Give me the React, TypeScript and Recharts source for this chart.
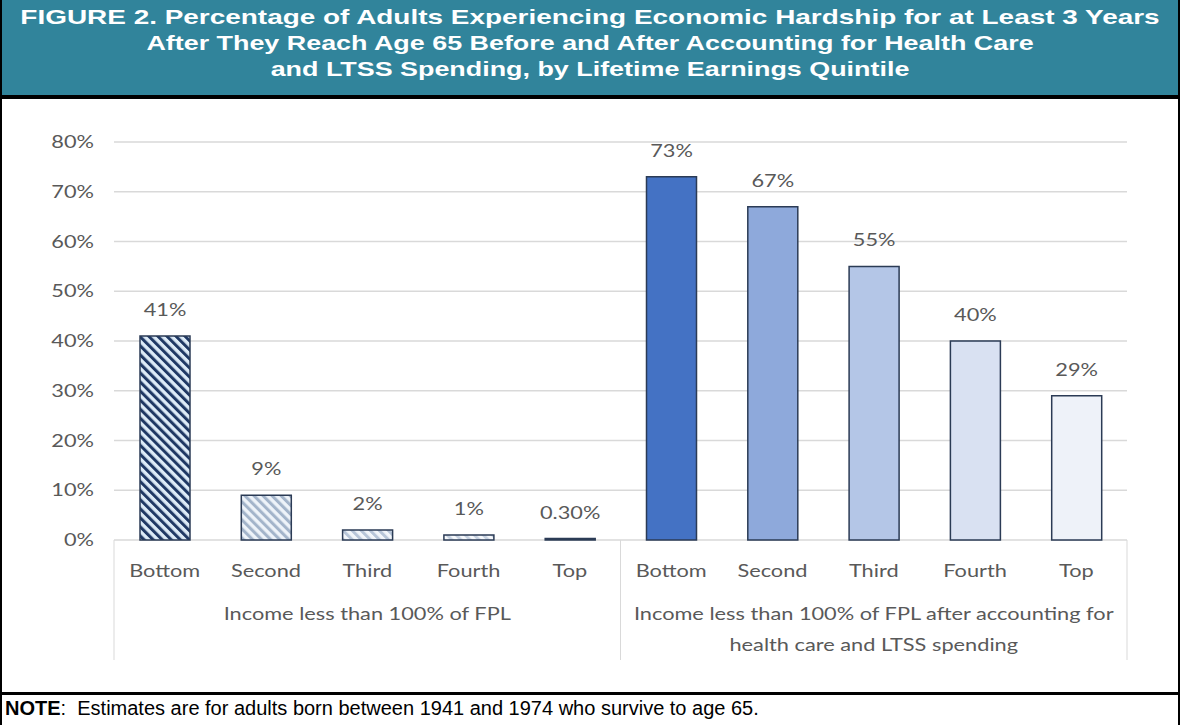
import React from 'react';
import { BarChart, Bar, XAxis, YAxis, CartesianGrid, Cell, LabelList } from 'recharts';

// quintiles, repeated for both groups
const quintiles = ['Bottom', 'Second', 'Third', 'Fourth', 'Top'];
const groups = [
  ['Income less than 100% of FPL'],
  ['Income less than 100% of FPL after accounting for', 'health care and LTSS spending'],
];
const beforeValues = [41, 9, 2, 1, 0.3];
const beforeLabels = ['41%', '9%', '2%', '1%', '0.30%'];
const afterValues = [73, 67, 55, 40, 29];
const afterLabels = ['73%', '67%', '55%', '40%', '29%'];
const yTicks = [0, 10, 20, 30, 40, 50, 60, 70, 80];

const data = [
  ...quintiles.map((q, i) => ({ name: q, group: 0, value: beforeValues[i], label: beforeLabels[i] })),
  ...quintiles.map((q, i) => ({ name: q, group: 1, value: afterValues[i], label: afterLabels[i] })),
];

const barFills = [
  'url(#hatch1)', 'url(#hatch2)', 'url(#hatch3)', 'url(#hatch4)', 'url(#hatch4)',
  '#4472C4', '#8EA9DB', '#B4C6E7', '#D9E1F2', '#EEF2F9',
];

const FONT = 'Lato, "Open Sans", sans-serif';
const TEXT = '#595959';
const GRID = '#D9D9D9';
const STRETCH = 1.28; // the source picture is stretched sideways

const CHART_W = 1180;
const CHART_H = 593;
const PLOT_L = 114;
const PLOT_R = 1127;
const CAT_W = (PLOT_R - PLOT_L) / data.length;

const WideText = ({ x, y, anchor = 'middle', dy, children }: any) => (
  <text
    transform={`translate(${x},${y}) scale(${STRETCH},1)`}
    textAnchor={anchor}
    dy={dy}
    fill={TEXT}
    fontSize={17}
    fontFamily={FONT}
  >
    {children}
  </text>
);

const YTick = ({ x, y, payload }: any) => (
  <WideText x={x} y={y} anchor="end" dy="0.355em">{`${payload.value}%`}</WideText>
);

const QuintileTick = (props: any) => {
  const { x, y, index, payload } = props;
  const row = data[index];
  const lines: React.ReactNode[] = [];
  if (index === 0 || index === 5) {
    lines.push(<line key="l" x1={x - CAT_W / 2} x2={x - CAT_W / 2} y1={y} y2={y + 120} stroke={GRID} />);
  }
  if (index === 9) {
    lines.push(<line key="r" x1={x + CAT_W / 2} x2={x + CAT_W / 2} y1={y} y2={y + 120} stroke={GRID} />);
  }
  return (
    <g>
      {lines}
      <WideText x={x} y={y + 37}>{payload.value}</WideText>
      {index === 2 || index === 7
        ? groups[row.group].map((t, k) => (
            <WideText key={k} x={x} y={y + 80 + k * 31}>{t}</WideText>
          ))
        : null}
    </g>
  );
};

const ValueLabel = ({ x, y, width, value }: any) => (
  <WideText x={x + width / 2} y={y - 20}>{value}</WideText>
);

const Hatch = ({ id, stripe, bg }: { id: string; stripe: string; bg: string }) => (
  <pattern id={id} patternUnits="userSpaceOnUse" width={6.4} height={6.4} patternTransform="rotate(-45)">
    <rect x={0} y={0} width={6.4} height={6.4} fill={bg} />
    <rect x={0} y={0} width={3} height={6.4} fill={stripe} />
  </pattern>
);

const titleLines = [
  'FIGURE 2. Percentage of Adults Experiencing Economic Hardship for at Least 3 Years',
  'After They Reach Age 65 Before and After Accounting for Health Care',
  'and LTSS Spending, by Lifetime Earnings Quintile',
];

export default function App() {
  document.body.style.margin = '0';
  return (
    <div style={{ position: 'relative', width: 1180, height: 725, background: '#fff', fontFamily: 'Arial, "Liberation Sans", sans-serif', overflow: 'hidden' }}>
      <div style={{ position: 'absolute', left: 0, top: 0, width: 1180, height: 95, background: '#31849B', color: '#fff', fontWeight: 'bold', fontSize: 21, lineHeight: '26px', textAlign: 'center', paddingTop: 4, boxSizing: 'border-box' }}>
        {titleLines.map((t, i) => (
          <div key={i} style={{ transform: `scaleX(${i === 0 ? 1.33 : 1.28})`, whiteSpace: 'nowrap' }}>{t}</div>
        ))}
      </div>
      <div style={{ position: 'absolute', left: 0, top: 95, width: 1180, height: 4, background: '#000' }} />
      <div style={{ position: 'absolute', left: 0, top: 99 }}>
        <BarChart width={CHART_W} height={CHART_H} data={data} margin={{ top: 43, right: CHART_W - PLOT_R, bottom: 0, left: 0 }} barSize={50}>
          <defs>
            <Hatch id="hatch1" stripe="#1F3864" bg="#DDEBF7" />
            <Hatch id="hatch2" stripe="#A3B4CA" bg="#EEF3F9" />
            <Hatch id="hatch3" stripe="#B7C5D8" bg="#F3F6FA" />
            <Hatch id="hatch4" stripe="#C8D3E2" bg="#F6F8FB" />
          </defs>
          <CartesianGrid vertical={false} stroke={GRID} strokeWidth={1.3} />
          <YAxis
            width={PLOT_L}
            domain={[0, 80]}
            ticks={yTicks}
            axisLine={false}
            tickLine={false}
            tickSize={0}
            tickMargin={20}
            tick={<YTick />}
          />
          <XAxis
            dataKey="name"
            height={CHART_H - 441}
            axisLine={false}
            tickLine={false}
            tickSize={0}
            tickMargin={0}
            interval={0}
            tick={<QuintileTick />}
          />
          <Bar dataKey="value" isAnimationActive={false} stroke="#2B3B55" strokeWidth={1.5}>
            {data.map((d, i) => (
              <Cell key={`cell-${i}`} fill={barFills[i]} />
            ))}
            <LabelList dataKey="label" content={<ValueLabel />} />
          </Bar>
        </BarChart>
      </div>
      <div style={{ position: 'absolute', left: 0, top: 692, width: 1180, height: 3, background: '#000' }} />
      <div style={{ position: 'absolute', left: 5, top: 697, fontSize: 20, color: '#000', whiteSpace: 'pre' }}>
        <b>NOTE</b>{':  Estimates are for adults born between 1941 and 1974 who survive to age 65.'}
      </div>
      <div style={{ position: 'absolute', left: 0, top: 0, width: 2, height: 725, background: '#000' }} />
      <div style={{ position: 'absolute', right: 0, top: 0, width: 2, height: 725, background: '#000' }} />
    </div>
  );
}
